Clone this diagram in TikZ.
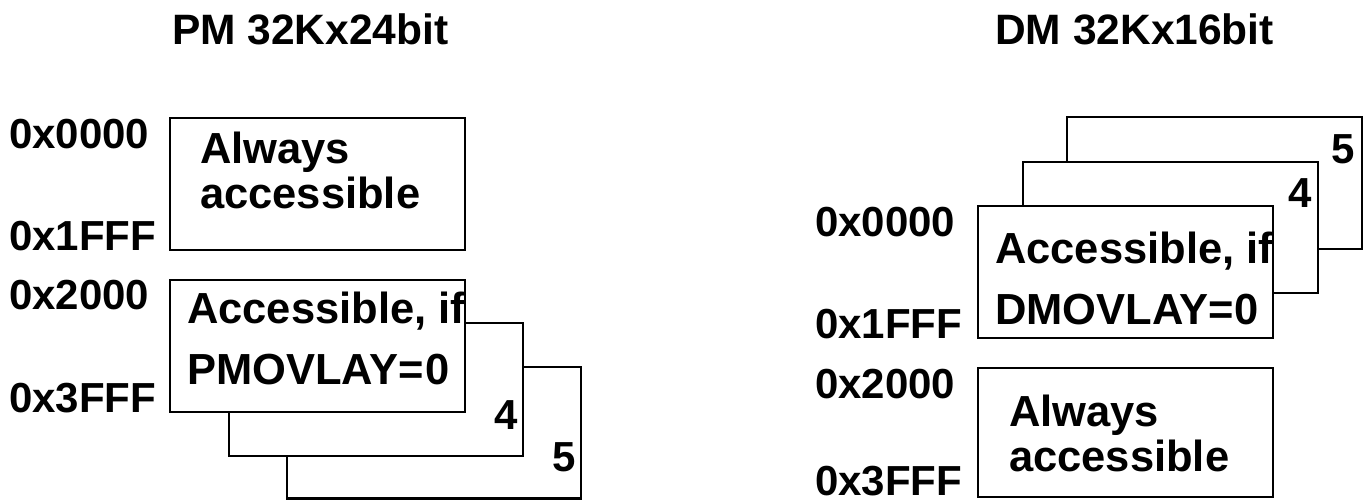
\documentclass[tikz,border=0pt]{standalone}
\usepackage{fontspec}
\setmainfont{Liberation Sans}
\begin{document}
\begin{tikzpicture}[x=1pt,y=-1pt,
  membox/.style={draw=black,line width=2.8pt,fill=white},
  lbl/.style={font=\fontsize{42}{46}\selectfont\bfseries,inner sep=0pt,anchor=base west},
  boxtxt/.style={font=\fontsize{43.5}{48}\selectfont\bfseries,inner sep=0pt,anchor=base west},
  ttl/.style={font=\fontsize{42.5}{46}\selectfont\bfseries,inner sep=0pt,anchor=base west},
  num/.style={font=\fontsize{42}{46}\selectfont\bfseries,inner sep=0pt,anchor=base east}]
\useasboundingbox (0,0) rectangle (1366,501);
% titles
\node[ttl] (t1) at (172,44) {PM 32Kx24bit};
\node[ttl] (t2) at (995,44) {DM 32Kx16bit};
% ---- left: PM ----
\node[lbl] (l1) at (9,148) {0x0000};
\node[lbl] (l2) at (9,250) {0x1FFF};
\node[lbl] (l3) at (9,309) {0x2000};
\node[lbl] (l4) at (9,412) {0x3FFF};
\draw[membox] (170,118) rectangle (465,250);
\node[boxtxt] (a1) at (200,163) {Always};
\node[boxtxt] (a2) at (200,208) {accessible};
\draw[membox] (287,367) rectangle (581,498.5);
\node[num] (p5) at (576,471) {5};
\draw[membox] (229,323) rectangle (523,456);
\node[num] (p4) at (518,429) {4};
\draw[membox] (170,280) rectangle (465,412);
\begin{scope}
\clip (170,280) rectangle (463.6,412);
\node[boxtxt] (pa) at (187,323) {Accessible, if};
\node[boxtxt] (pb) at (187,384) {PMOVLAY=\kern2pt0};
\end{scope}
% ---- right: DM ----
\node[lbl] (r1) at (815,236) {0x0000};
\node[lbl] (r2) at (815,338) {0x1FFF};
\node[lbl] (r3) at (815,398) {0x2000};
\node[lbl] (r4) at (815,495) {0x3FFF};
\draw[membox] (1067,117) rectangle (1362,249);
\node[num] (d5) at (1355,163) {5};
\draw[membox] (1023,162) rectangle (1318,293);
\node[num] (d4) at (1312,207) {4};
\draw[membox] (978,206) rectangle (1273,338);
\begin{scope}
\clip (978,206) rectangle (1271.6,338);
\node[boxtxt] (da) at (995,263) {Accessible, if};
\node[boxtxt] (db) at (995,324) {DMOVLAY=0};
\end{scope}
\draw[membox] (978,368) rectangle (1273,497);
\node[boxtxt] (b1) at (1009,426) {Always};
\node[boxtxt] (b2) at (1009,471) {accessible};
\end{tikzpicture}
\end{document}
